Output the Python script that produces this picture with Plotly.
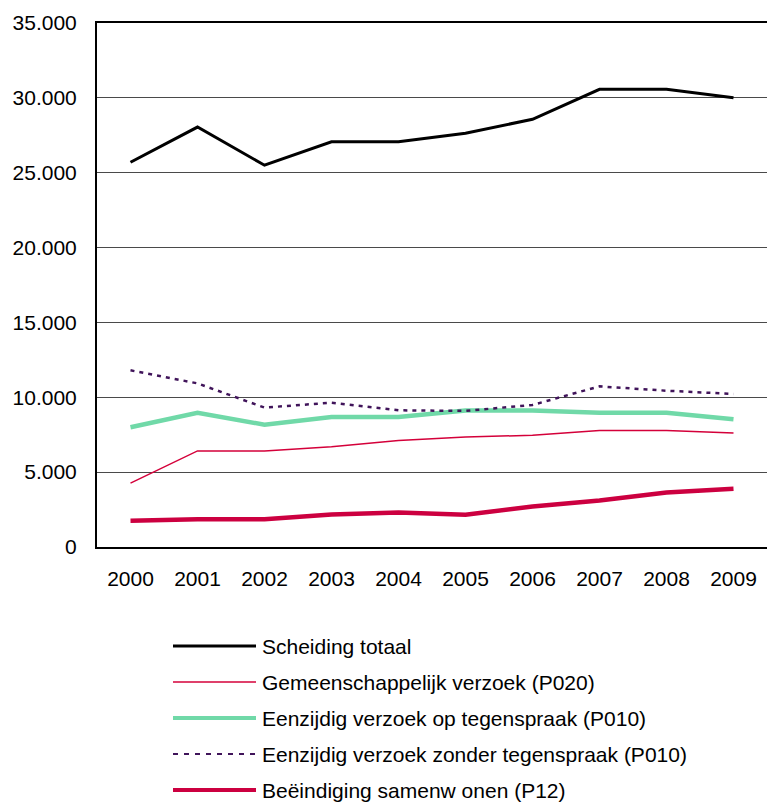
import plotly.graph_objects as go

years = ["2000", "2001", "2002", "2003", "2004", "2005", "2006", "2007", "2008", "2009"]

scheiding_totaal = [25700, 28050, 25500, 27070, 27070, 27640, 28570, 30570, 30570, 30000]
gemeenschappelijk = [4270, 6420, 6420, 6690, 7110, 7350, 7460, 7780, 7780, 7620]
op_tegenspraak = [8000, 8970, 8170, 8690, 8690, 9110, 9110, 8970, 8970, 8530]
zonder_tegenspraak = [11800, 10930, 9310, 9640, 9130, 9090, 9490, 10730, 10440, 10220]
samenwonen = [1750, 1860, 1860, 2170, 2310, 2150, 2710, 3110, 3640, 3890]

series_names = [
    "Scheiding totaal",
    "Gemeenschappelijk verzoek (P020)",
    "Eenzijdig verzoek op tegenspraak (P010)",
    "Eenzijdig verzoek zonder tegenspraak (P010)",
    "Beëindiging samenw onen (P12)",
]
series_values = [scheiding_totaal, gemeenschappelijk, op_tegenspraak, zonder_tegenspraak, samenwonen]
series_colors = ["#000000", "#D4003A", "#70D9A8", "#40145A", "#CC0040"]
series_widths = [3, 1.5, 4.5, 2.5, 4.5]
series_dash = ["solid", "solid", "solid", "4px,5px", "solid"]

y_ticks = [0, 5000, 10000, 15000, 20000, 25000, 30000, 35000]

W, H = 767, 805
L, R, T, B = 97, 0, 23, 258
pw, ph = W - L - R, H - T - B

FONT = "Liberation Sans, Arial, sans-serif"
FS = 21

fig = go.Figure()
for name, vals, col, wd, ds in zip(series_names, series_values, series_colors, series_widths, series_dash):
    fig.add_trace(go.Scatter(
        x=years, y=vals, mode="lines", name=name,
        line=dict(color=col, width=wd, dash=ds),
        showlegend=False,
    ))

# custom legend (below the plot)
leg_x0, leg_x1, leg_tx = 173, 256, 262
leg_y = [646, 682, 718, 754, 790]
leg_dash = ["solid", "solid", "solid", "5px,6px", "solid"]
leg_w = [3, 1.5, 4, 2, 4]

def px2x(px):
    return (px - L) / pw

def py2y(py):
    return (H - B - py) / ph

shapes = []
annotations = []
for name, col, wd, ds, yy in zip(series_names, series_colors, leg_w, leg_dash, leg_y):
    shapes.append(dict(type="line", xref="paper", yref="paper",
                       x0=px2x(leg_x0), x1=px2x(leg_x1), y0=py2y(yy), y1=py2y(yy),
                       line=dict(color=col, width=wd, dash=ds)))
    annotations.append(dict(xref="paper", yref="paper", x=px2x(leg_tx), y=py2y(yy),
                            text=name, showarrow=False, xanchor="left", yanchor="middle",
                            xshift=-2, font=dict(family=FONT, size=FS, color="#000000")))

fig.update_layout(
    width=W, height=H,
    margin=dict(l=L, r=R, t=T, b=B, pad=0),
    paper_bgcolor="white", plot_bgcolor="white",
    separators=",.",
    font=dict(family=FONT, size=FS, color="#000000"),
    showlegend=False,
    shapes=shapes,
    annotations=annotations,
    xaxis=dict(
        type="category", range=[-0.5, 9.5], showgrid=False, showline=True,
        linecolor="#000000", linewidth=2,
        mirror=True, ticks="", ticklabelstandoff=12, zeroline=False,
        tickfont=dict(family=FONT, size=FS),
    ),
    yaxis=dict(
        range=[0, 35000], tickvals=y_ticks, tickformat=",d",
        showgrid=True, gridcolor="#4a4a4a", gridwidth=1,
        showline=True, linecolor="#000000", linewidth=2,
        ticks="", ticklabelstandoff=14, zeroline=False,
        tickfont=dict(family=FONT, size=FS),
    ),
)

fig.write_html(
    "out.html",
    config={"displayModeBar": False},
    post_script="document.body.style.margin='0';document.body.style.overflow='hidden';",
)
